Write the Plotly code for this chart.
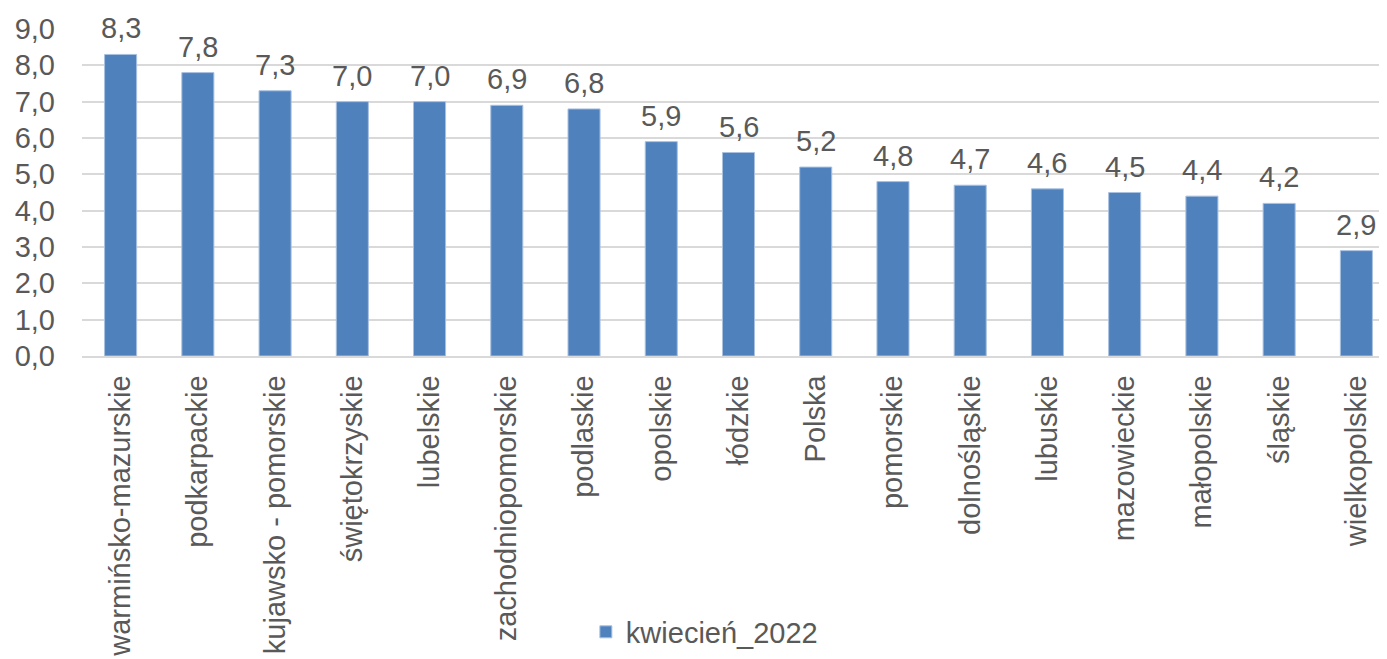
import plotly.graph_objects as go

categories = ["warmińsko-mazurskie", "podkarpackie", "kujawsko - pomorskie", "świętokrzyskie",
              "lubelskie", "zachodniopomorskie", "podlaskie", "opolskie", "łódzkie", "Polska",
              "pomorskie", "dolnośląskie", "lubuskie", "mazowieckie", "małopolskie", "śląskie",
              "wielkopolskie"]
values = [8.3, 7.8, 7.3, 7.0, 7.0, 6.9, 6.8, 5.9, 5.6, 5.2, 4.8, 4.7, 4.6, 4.5, 4.4, 4.2, 2.9]
series_name = "kwiecień_2022"
y_ticks = [0, 1, 2, 3, 4, 5, 6, 7, 8, 9]

FONT = "Liberation Sans"
GREY = "#595959"
FS = 29

fig = go.Figure()
fig.add_trace(go.Bar(
    x=categories, y=values, name=series_name,
    marker=dict(color="#4f81bd", line=dict(color="#a9c1e0", width=1)),
))
for c, v in zip(categories, values):
    fig.add_annotation(x=c, y=v, text=f"{v:.1f}".replace(".", ","), showarrow=False,
                       yanchor="bottom", yshift=8,
                       font=dict(family=FONT, size=FS, color=GREY))
fig.update_layout(
    width=1387, height=659,
    margin=dict(l=74, r=0, t=21, b=311),
    paper_bgcolor="white", plot_bgcolor="white",
    separators=",.",
    bargap=0.585,
    showlegend=True,
    legend=dict(orientation="h", x=0.474, xanchor="center", y=-0.844, yanchor="middle",
                itemwidth=30,
                font=dict(family=FONT, size=FS, color=GREY)),
    font=dict(family=FONT, color=GREY),
)
fig.update_xaxes(tickangle=-90, tickfont=dict(family=FONT, size=FS, color=GREY),
                 showline=True, linecolor="#d9d9d9", linewidth=1.5, ticks="",
                 range=[-0.5, 16.5], ticklabelstandoff=6)
fig.update_yaxes(range=[0, 9], tickvals=y_ticks, tickformat=".1f",
                 tickfont=dict(family=FONT, size=FS, color=GREY),
                 gridcolor="#d9d9d9", gridwidth=1.5, zeroline=False, showline=False, ticks="",
                 ticklabelstandoff=26)
fig.write_html("out.html")
